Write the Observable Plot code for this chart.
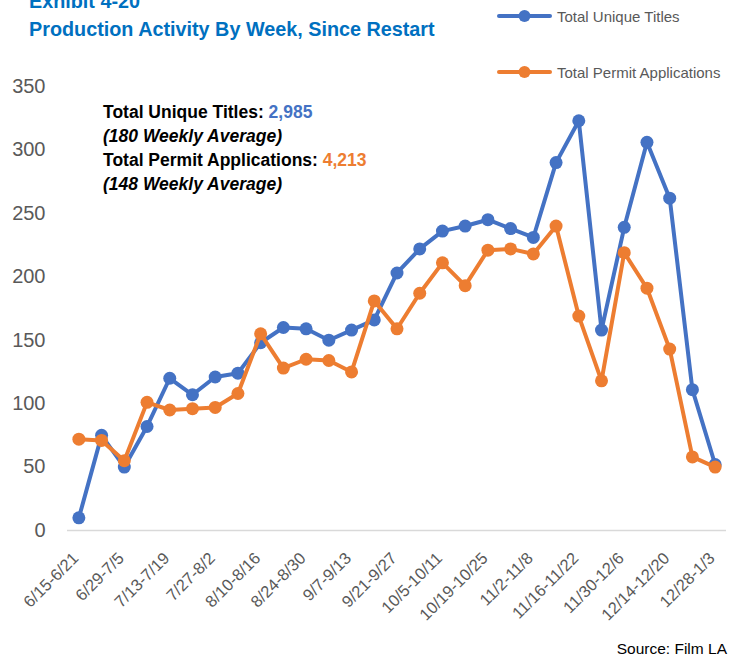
<!DOCTYPE html>
<html>
<head>
<meta charset="utf-8">
<script src="https://cdn.jsdelivr.net/npm/d3@7"></script>
<script src="https://cdn.jsdelivr.net/npm/@observablehq/plot@0.6"></script>
<style>
  html, body { margin: 0; padding: 0; background: #fff; }
  #wrap { position: relative; width: 739px; height: 659px; overflow: hidden; font-family: "Liberation Sans", Arial, sans-serif; }
  #chart { position: absolute; left: 0; top: 0; }
  .title { position: absolute; left: 29px; top: -13px; color: #0070C0; font-weight: bold; font-size: 19.8px; line-height: 28px; white-space: nowrap; }
  .note { position: absolute; left: 103px; top: 100px; color: #000; font-weight: bold; font-size: 17.5px; line-height: 24px; white-space: nowrap; }
  .note i { font-style: italic; }
  .leg { position: absolute; left: 497px; font-size: 15px; color: #595959; display: flex; align-items: center; white-space: nowrap; }
  .leg svg { margin-right: 5px; }
  .source { position: absolute; right: 12px; top: 641px; font-size: 15.5px; line-height: 15px; color: #000; white-space: nowrap; }
</style>
</head>
<body>
<div id="wrap">
  <div id="chart"></div>
  <div class="title">Exhibit 4-20<br>Production Activity By Week, Since Restart</div>
  <div class="note">
    Total Unique Titles: <span style="color:#4472C4">2,985</span><br>
    <i>(180 Weekly Average)</i><br>
    Total Permit Applications: <span style="color:#ED7D31">4,213</span><br>
    <i>(148 Weekly Average)</i>
  </div>
  <div class="leg" id="leg1" style="top:6px;"></div>
  <div class="leg" id="leg2" style="top:62px;"></div>
  <div class="source">Source: Film LA</div>
</div>
<script>
const weeks = [
  "6/15-6/21", "6/22-6/28", "6/29-7/5", "7/6-7/12", "7/13-7/19", "7/20-7/26",
  "7/27-8/2", "8/3-8/9", "8/10-8/16", "8/17-8/23", "8/24-8/30", "8/31-9/6",
  "9/7-9/13", "9/14-9/20", "9/21-9/27", "9/28-10/4", "10/5-10/11", "10/12-10/18",
  "10/19-10/25", "10/26-11/1", "11/2-11/8", "11/9-11/15", "11/16-11/22", "11/23-11/29",
  "11/30-12/6", "12/7-12/13", "12/14-12/20", "12/21-12/27", "12/28-1/3"
];
const uniqueTitles = [
  10, 75, 50, 82, 120, 107, 121, 124, 148, 160, 159, 150, 158, 166, 203,
  222, 236, 240, 245, 238, 231, 290, 323, 158, 239, 306, 262, 111, 52
];
const permitApplications = [
  72, 71, 55, 101, 95, 96, 97, 108, 155, 128, 135, 134, 125, 181, 159,
  187, 211, 193, 221, 222, 218, 240, 169, 118, 219, 191, 143, 58, 50
];
const labeledWeekIndex = weeks.map((d, i) => i).filter(i => i % 2 === 0);
const yTicks = [0, 50, 100, 150, 200, 250, 300, 350];
const seriesNames = ["Total Unique Titles", "Total Permit Applications"];
const seriesColors = ["#4472C4", "#ED7D31"];

const titleRows = weeks.map((w, i) => ({idx: i, week: w, value: uniqueTitles[i]}));
const permitRows = weeks.map((w, i) => ({idx: i, week: w, value: permitApplications[i]}));

const chart = Plot.plot({
  width: 739,
  height: 659,
  marginLeft: 67,
  marginRight: 13,
  marginTop: 86,
  marginBottom: 129,
  x: {type: "linear", domain: [-0.5, weeks.length - 0.5]},
  y: {domain: [0, 350]},
  style: {fontFamily: "'Liberation Sans', Arial, sans-serif", color: "#595959", background: "transparent", overflow: "visible"},
  marks: [
    Plot.ruleY([0], {stroke: "#D9D9D9", strokeWidth: 1.5}),
    Plot.axisY({ticks: yTicks, tickSize: 0, tickPadding: 22, fontSize: 20, label: null}),
    Plot.axisX({ticks: labeledWeekIndex, tickFormat: i => weeks[i], tickSize: 0, tickRotate: -45, tickPadding: 25, dx: -3, fontSize: 16.5, label: null}),
    Plot.line(titleRows, {x: "idx", y: "value", stroke: seriesColors[0], strokeWidth: 4}),
    Plot.dot(titleRows, {x: "idx", y: "value", r: 6.5, fill: seriesColors[0], stroke: "none"}),
    Plot.line(permitRows, {x: "idx", y: "value", stroke: seriesColors[1], strokeWidth: 4}),
    Plot.dot(permitRows, {x: "idx", y: "value", r: 6.5, fill: seriesColors[1], stroke: "none"})
  ]
});
document.getElementById("chart").appendChild(chart);

function legendItem(el, name, color) {
  el.innerHTML =
    `<svg width="55" height="20"><line x1="2" y1="10" x2="53" y2="10" stroke="${color}" stroke-width="4" stroke-linecap="round"/>` +
    `<circle cx="27.5" cy="10" r="6" fill="${color}"/></svg><span>${name}</span>`;
}
legendItem(document.getElementById("leg1"), seriesNames[0], seriesColors[0]);
legendItem(document.getElementById("leg2"), seriesNames[1], seriesColors[1]);
</script>
</body>
</html>
